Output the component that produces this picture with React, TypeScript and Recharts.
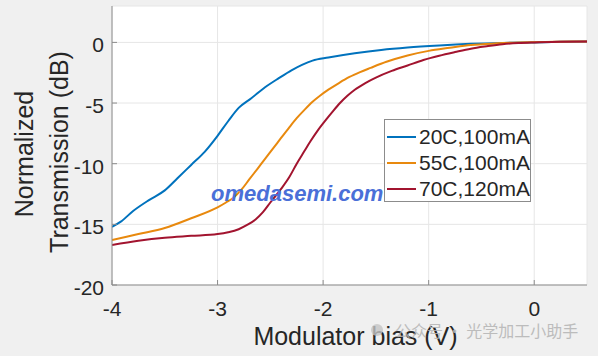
import { LineChart, Line, XAxis, YAxis, CartesianGrid, Legend, Label } from 'recharts'

const xTicks = [-4, -3, -2, -1, 0]
const yTicks = [-20, -15, -10, -5, 0]

// 20C, 100mA
const bias20C = [-4, -3.92, -3.8, -3.65, -3.5, -3.38, -3.25, -3.12, -3.0, -2.9, -2.8, -2.68, -2.55, -2.42, -2.3, -2.2, -2.1, -1.95, -1.7, -1.45, -1.2, -0.9, -0.6, -0.3, 0, 0.25, 0.5]
const trans20C = [-15.2, -14.8, -13.9, -13.0, -12.2, -11.2, -10.1, -9.0, -7.7, -6.5, -5.4, -4.6, -3.7, -2.95, -2.3, -1.85, -1.5, -1.25, -0.9, -0.62, -0.42, -0.25, -0.12, -0.04, 0, 0.05, 0.08]

// 55C, 100mA
const bias55C = [-4, -3.75, -3.5, -3.25, -3.0, -2.92, -2.85, -2.77, -2.7, -2.62, -2.55, -2.47, -2.4, -2.32, -2.25, -2.17, -2.1, -2.03, -1.95, -1.85, -1.75, -1.65, -1.55, -1.4, -1.2, -1.0, -0.8, -0.6, -0.35, -0.15, 0.2, 0.5]
const trans55C = [-16.3, -15.8, -15.3, -14.5, -13.6, -13.2, -12.8, -12.1, -11.3, -10.4, -9.6, -8.7, -7.9, -7.0, -6.25, -5.5, -4.9, -4.4, -3.9, -3.35, -2.85, -2.45, -2.1, -1.6, -1.08, -0.7, -0.45, -0.22, -0.08, 0, 0.05, 0.08]

// 70C, 120mA
const bias70C = [-4, -3.75, -3.5, -3.25, -3.0, -2.9, -2.8, -2.72, -2.64, -2.57, -2.5, -2.4, -2.32, -2.25, -2.18, -2.12, -2.05, -1.97, -1.9, -1.84, -1.77, -1.7, -1.6, -1.5, -1.35, -1.2, -1.05, -0.9, -0.75, -0.6, -0.45, -0.3, -0.15, 0, 0.25, 0.5]
const trans70C = [-16.7, -16.35, -16.1, -15.95, -15.8, -15.65, -15.4, -15.05, -14.6, -14.0, -13.2, -12.1, -11.1, -10.0, -9.0, -8.15, -7.25, -6.35, -5.6, -5.0, -4.4, -3.9, -3.35, -2.9, -2.35, -1.9, -1.45, -1.1, -0.8, -0.52, -0.32, -0.15, -0.05, 0, 0.05, 0.08]

const toPoints = (xs: number[], ys: number[]) => xs.map((x, i) => ({ x, y: ys[i] }))

const series = [
  { name: '20C,100mA', color: '#0072BD', data: toPoints(bias20C, trans20C) },
  { name: '55C,100mA', color: '#E8890E', data: toPoints(bias55C, trans55C) },
  { name: '70C,120mA', color: '#A2142F', data: toPoints(bias70C, trans70C) },
]

const FONT = '"Liberation Sans", Arial, Helvetica, sans-serif'
const AXIS = '#8c8c8c'
const TEXT = '#262626'

const BottomTick = ({ x, y, payload }: any) => (
  <g>
    <line x1={x} x2={x} y1={y} y2={y - 5} stroke={AXIS} />
    <text x={x} y={y + 31} textAnchor="middle" fontSize={21} fontFamily={FONT} fill={TEXT}>
      {payload.value}
    </text>
  </g>
)

const LeftTick = ({ x, y, payload }: any) => (
  <g>
    <line x1={x} x2={x + 5} y1={y} y2={y} stroke={AXIS} />
    <text x={x - 8} y={y + 10} textAnchor="end" fontSize={21} fontFamily={FONT} fill={TEXT}>
      {payload.value}
    </text>
  </g>
)

const RightTick = ({ x, y }: any) => <line x1={x} x2={x - 5} y1={y} y2={y} stroke={AXIS} />

const LegendBox = ({ payload }: any) => (
  <div
    style={{
      width: 145,
      height: 77,
      background: '#fff',
      border: '1px solid #8c8c8c',
      paddingTop: 4,
      boxSizing: 'content-box',
      fontFamily: FONT,
      fontSize: 21,
      color: TEXT,
      textAlign: 'left',
    }}
  >
    {(payload || []).map((p: any) => (
      <div key={p.value} style={{ display: 'flex', alignItems: 'center', height: 26 }}>
        <div style={{ width: 29, height: 2, background: p.color, marginLeft: 2, marginRight: 3 }} />
        <span style={{ lineHeight: '26px' }}>{p.value}</span>
      </div>
    ))}
  </div>
)

export default function App() {
  return (
    <div style={{ position: 'absolute', left: 0, top: 0, width: 598, height: 356, background: '#f0f0f0' }}>
      <LineChart width={598} height={356} margin={{ top: 6, right: 11, bottom: 0, left: 0 }}>
        <CartesianGrid stroke="#e6e6e6" fill="#fff" />
        <XAxis
          type="number"
          dataKey="x"
          domain={[-4, 0.5]}
          ticks={xTicks}
          allowDataOverflow
          height={71}
          stroke={AXIS}
          tickSize={0}
          tickMargin={0}
          tick={<BottomTick />}
        >
          <Label
            content={({ viewBox }: any) => (
              <text
                x={viewBox.x + viewBox.width / 2 + 6}
                y={viewBox.y + 60}
                textAnchor="middle"
                fontSize={25}
                fontFamily={FONT}
                fill={TEXT}
              >
                Modulator bias (V)
              </text>
            )}
          />
        </XAxis>
        <XAxis
          xAxisId="top"
          orientation="top"
          type="number"
          domain={[-4, 0.5]}
          height={0}
          stroke={AXIS}
          tick={false}
          tickLine={false}
        />
        <YAxis
          type="number"
          domain={[-20, 3]}
          ticks={yTicks}
          allowDataOverflow
          width={112}
          stroke={AXIS}
          tickSize={0}
          tickMargin={0}
          tick={<LeftTick />}
        >
          <Label
            content={() => (
              <g fontSize={25} fontFamily={FONT} fill={TEXT} textAnchor="middle">
                <text x={33} y={154} transform="rotate(-90 33 154)">Normalized</text>
                <text x={68} y={152} transform="rotate(-90 68 152)">Transmission (dB)</text>
              </g>
            )}
          />
        </YAxis>
        <YAxis
          yAxisId="right"
          orientation="right"
          type="number"
          domain={[-20, 3]}
          ticks={yTicks}
          width={0}
          stroke={AXIS}
          tickSize={0}
          tickMargin={0}
          tick={<RightTick />}
        />
        {series.map((s) => (
          <Line
            key={s.name}
            data={s.data}
            dataKey="y"
            name={s.name}
            type="monotone"
            stroke={s.color}
            strokeWidth={2}
            dot={false}
            isAnimationActive={false}
          />
        ))}
        <Legend
          layout="vertical"
          verticalAlign="middle"
          align="center"
          content={<LegendBox />}
          wrapperStyle={{ left: 384, top: 119, width: 147 }}
        />
      </LineChart>
      <svg width={598} height={356} style={{ position: 'absolute', left: 0, top: 0, pointerEvents: 'none' }}>
        <text x={211} y={201} fontSize={22} fontWeight="bold" fontStyle="italic" fontFamily={FONT} fill="#4a6fd8">
          omedasemi.com
        </text>
        <circle cx={377} cy={330} r={6} fill="#c4c4c4" opacity={0.8} />
        <text x={395} y={337} fontSize={16} fontFamily='"Noto Sans CJK SC", sans-serif' fill="#b4b4b4" opacity={0.85}>
          公众号 · 光学加工小助手
        </text>
      </svg>
    </div>
  )
}
